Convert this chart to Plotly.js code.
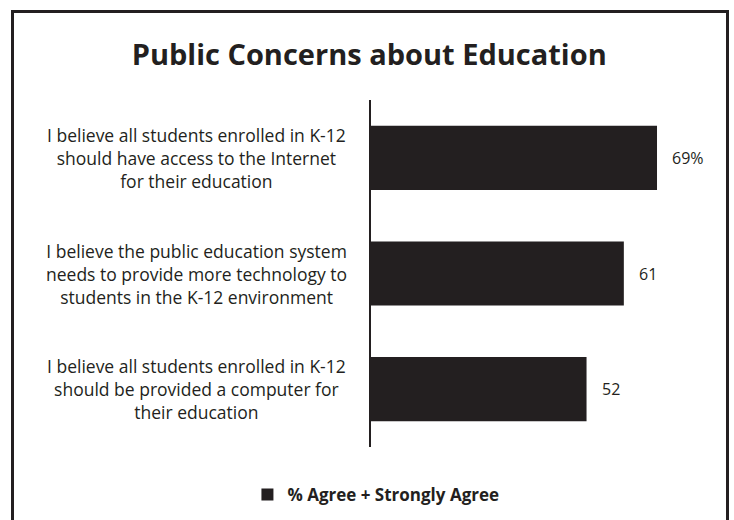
<!DOCTYPE html>
<html>
<head>
<meta charset="utf-8">
<script src="https://cdn.plot.ly/plotly-3.0.1.min.js"></script>
<style>
  html, body { margin: 0; padding: 0; background: #ffffff; }
  #wrap { position: relative; width: 734px; height: 520px; overflow: hidden; }
  #chart { position: absolute; left: 0; top: 0; width: 734px; height: 520px; }
  #frame { position: absolute; left: 11px; top: 10px; width: 712px; height: 540px;
           border: 3px solid #231f20; pointer-events: none; }
</style>
</head>
<body>
<div id="wrap">
  <div id="chart"></div>
  <div id="frame"></div>
</div>
<script>
const categories = [
  "I believe all students enrolled in K-12<br>should have access to the Internet<br>for their education",
  "I believe the public education system<br>needs to provide more technology to<br>students in the K-12 environment",
  "I believe all students enrolled in K-12<br>should be provided a computer for<br>their education"
];
const values = [69, 61, 52];
const valueLabels = ["69%", "61", "52"];
const seriesName = "% Agree + Strongly Agree";
const chartTitle = "Public Concerns about Education";

const ink = "#231f20";
const fam = "'Open Sans', sans-serif";
const catKeys = categories.map((c, i) => "c" + i);

const annotations = [];
categories.forEach((c, i) => {
  annotations.push({
    xref: "paper", yref: "y", x: -0.529, y: catKeys[i],
    text: c, showarrow: false, xanchor: "center", yanchor: "middle", align: "center",
    font: { family: fam, size: 17.5, color: ink }
  });
  annotations.push({
    xref: "x", yref: "y", x: values[i], y: catKeys[i],
    text: valueLabels[i], showarrow: false, xanchor: "left", yanchor: "middle", xshift: 13,
    font: { family: fam, size: 16, color: ink }
  });
});

const data = [{
  type: "bar", orientation: "h",
  x: values, y: catKeys, name: seriesName,
  marker: { color: ink },
  hoverinfo: "none"
}];

const layout = {
  width: 734, height: 520,
  margin: { l: 371, r: 34, t: 100, b: 73, pad: 0, autoexpand: false },
  paper_bgcolor: "#ffffff", plot_bgcolor: "#ffffff",
  title: {
    text: "<b>" + chartTitle + "</b>",
    x: 0.503, xref: "container", xanchor: "center",
    y: 1 - 55 / 520, yref: "container", yanchor: "middle",
    font: { family: fam, size: 29, color: ink }
  },
  bargap: 0.445,
  xaxis: { range: [0, 329 / 4.145], visible: false, fixedrange: true },
  yaxis: {
    type: "category", autorange: "reversed", showticklabels: false,
    showline: true, linecolor: ink, linewidth: 2, showgrid: false, zeroline: false,
    ticks: ""
  },
  showlegend: true,
  legend: {
    orientation: "h", x: 0.015, xanchor: "center", y: -0.138, yanchor: "middle",
    font: { family: fam, size: 17, color: ink, weight: 700 },
    itemclick: false, itemdoubleclick: false
  },
  annotations: annotations
};

Plotly.newPlot("chart", data, layout, { displayModeBar: false, staticPlot: true });
</script>
</body>
</html>
